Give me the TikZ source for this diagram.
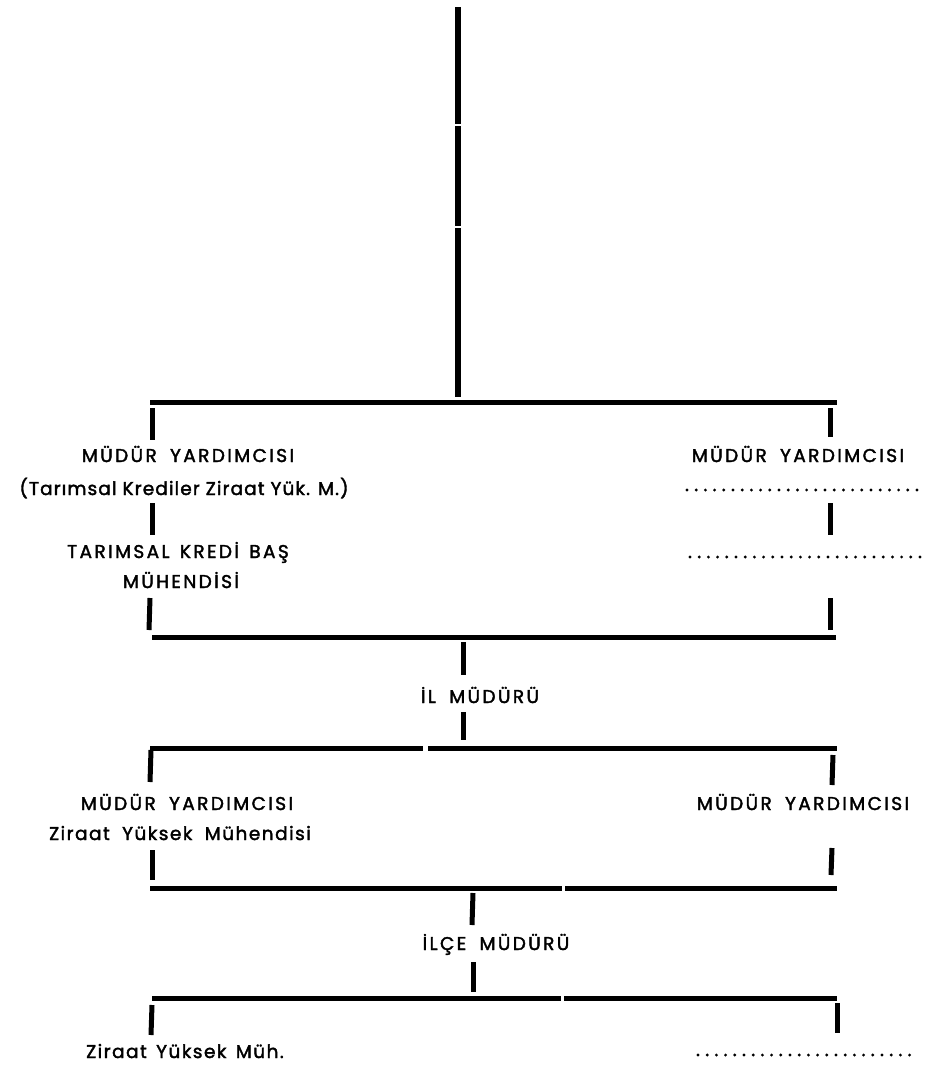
\documentclass[tikz,border=0pt]{standalone}
\usepackage{fontspec}
\setmainfont{Poppins}
\newfontfamily\capsfont{Poppins}[LetterSpace=13,FakeBold=2]
\newfontfamily\lowfont{Poppins}[LetterSpace=8,FakeBold=2]
\newfontfamily\lowfontb{Poppins}[LetterSpace=6,FakeBold=2]
\newcommand\gapw{\hspace{6pt}}
\begin{document}
\begin{tikzpicture}[x=1pt,y=-1pt,
  bar/.style={line width=5pt},
  tick/.style={line width=5pt},
  mainline/.style={line width=6pt},
  lbl/.style={inner sep=0pt,anchor=base,font=\fontsize{18.5}{22}\capsfont},
  lbllow/.style={inner sep=0pt,anchor=base,font=\fontsize{18.5}{22}\lowfont},
  dots/.style={line width=3.2pt,line cap=round,dash pattern=on 0pt off 9.2pt}]
\useasboundingbox (0,0) rectangle (926,1066);
% main vertical
\coordinate (top) at (458,7);
\coordinate (m1) at (458,124);
\coordinate (m2) at (458,126);
\coordinate (m3) at (458,226);
\coordinate (m4) at (458,228);
\coordinate (topj) at (458,397);
\draw[mainline] (top) -- (m1);
\draw[mainline] (m2) -- (m3);
\draw[mainline] (m4) -- (topj);
% bars
\coordinate (b1l) at (150,402); \coordinate (b1r) at (837,402);
\coordinate (b2l) at (152,637); \coordinate (b2r) at (836,637);
\coordinate (b3l) at (150,748); \coordinate (b3g1) at (423,748); \coordinate (b3g2) at (428,748); \coordinate (b3r) at (837,748);
\coordinate (b4l) at (150,888); \coordinate (b4g1) at (562,888); \coordinate (b4g2) at (565,888); \coordinate (b4r) at (837,888);
\coordinate (b5l) at (152,998); \coordinate (b5g1) at (561,998); \coordinate (b5g2) at (564,998); \coordinate (b5r) at (837,998);
\draw[bar] (b1l) -- (b1r);
\draw[bar] (b2l) -- (b2r);
\draw[bar] (b3l) -- (b3g1); \draw[bar] (b3g2) -- (b3r);
\draw[bar] (b4l) -- (b4g1); \draw[bar] (b4g2) -- (b4r);
\draw[bar] (b5l) -- (b5g1); \draw[bar] (b5g2) -- (b5r);
% labels
\node[lbl] (lmy1) at (188,462) {MÜDÜR\gapw{} YARDIMCISI};
\node[lbllow,font=\fontsize{18.5}{22}\lowfontb] (ltk) at (184,495) {(Tarımsal Krediler Ziraat Yük. M.)};
\node[lbl] (ltkb) at (178,558) {TARIMSAL\hspace{3pt} KREDİ\hspace{3pt} BAŞ};
\node[lbl] (lmuh) at (181,588) {MÜHENDİSİ};
\node[lbl] (rmy1) at (798,462) {MÜDÜR\gapw{} YARDIMCISI};
\node[lbl] (ilm) at (480,703) {İL\gapw{} MÜDÜRÜ};
\node[lbl] (lmy2) at (187,810) {MÜDÜR\gapw{} YARDIMCISI};
\node[lbllow] (lzym) at (180,840) {Ziraat\gapw{} Yüksek\gapw{} Mühendisi};
\node[lbl] (rmy2) at (803,810) {MÜDÜR\gapw{} YARDIMCISI};
\node[lbl] (ilce) at (496,950) {İLÇE\gapw{} MÜDÜRÜ};
\node[lbllow] (lzy) at (185,1058) {Ziraat\hspace{3pt} Yüksek\hspace{3pt} Müh.};
% dotted placeholders
\coordinate (d1a) at (687,490); \coordinate (d1b) at (926,490);
\coordinate (d2a) at (690,557); \coordinate (d2b) at (926,557);
\coordinate (d3a) at (698,1055); \coordinate (d3b) at (910,1055);
\draw[dots] (d1a) -- (d1b);
\draw[dots] (d2a) -- (d2b);
\draw[dots] (d3a) -- (d3b);
% ticks
\foreach \n/\xa/\ya/\xb/\yb in {
  l1/152/408/152/440, l2/152/503/152/535, l3/150/598/149/630,
  r1/830/408/830/437, r2/830/503/830/535, r3/830/598/830/630,
  c1/463/642/463/675, c2/463/712/463/740,
  l4/151/750/150/782, r4/833/755/832/785,
  l5/152/850/152/880, r5/832/848/831/875,
  c3/473/893/472/925, c4/473/962/473/992,
  l6/152/1005/151/1035, r6/837/1003/837/1033}{
  \coordinate (\n a) at (\xa,\ya);
  \coordinate (\n b) at (\xb,\yb);
  \draw[tick] (\n a) -- (\n b);
}
\end{tikzpicture}
\end{document}
